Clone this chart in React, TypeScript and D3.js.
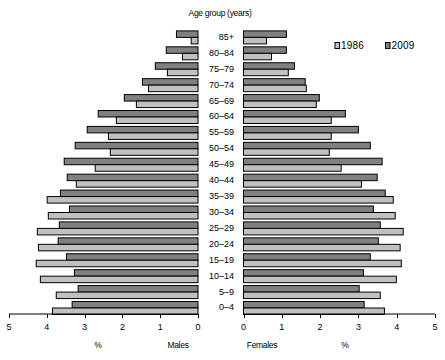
import React from "react";
import * as d3 from "d3";

const ageGroups = ["0–4","5–9","10–14","15–19","20–24","25–29","30–34","35–39","40–44","45–49","50–54","55–59","60–64","65–69","70–74","75–79","80–84","85+"];
const males1986 = [3.85,3.75,4.17,4.28,4.22,4.25,3.96,3.99,3.22,2.72,2.32,2.37,2.16,1.63,1.31,0.81,0.41,0.18];
const males2009 = [3.33,3.17,3.27,3.48,3.70,3.67,3.40,3.64,3.46,3.54,3.25,2.93,2.64,1.95,1.47,1.13,0.84,0.57];
const females1986 = [3.68,3.57,3.99,4.12,4.09,4.17,3.96,3.91,3.08,2.55,2.24,2.29,2.29,1.90,1.64,1.17,0.73,0.60];
const females2009 = [3.15,3.02,3.13,3.31,3.52,3.57,3.39,3.70,3.49,3.62,3.31,3.00,2.66,1.98,1.61,1.33,1.12,1.12];
const ticks = [0,1,2,3,4,5];
const years = ["1986","2009"];

const W = 445, H = 360;
const LIGHT = "#c0c0c0", DARK = "#808080";
const FONT = "Liberation Sans, Arial, sans-serif";

export default function App() {
  const xL = d3.scaleLinear().domain([0,5]).range([198,9]);
  const xR = d3.scaleLinear().domain([0,5]).range([243.5,435]);
  const y = d3.scaleBand<string>().domain(ageGroups).range([314,30.4]).paddingInner(0.183).paddingOuter(0);
  const bw = y.bandwidth();
  const hb = bw/2;
  const axisY = 314;
  return (
    <svg width={W} height={H} style={{position:"absolute",left:0,top:0,background:"#fff"}} fontFamily={FONT}>
      <rect width={W} height={H} fill="#fff"/>
      <text x={220} y={16} fontSize={8.5} textAnchor="middle" letterSpacing={-0.3}>Age group (years)</text>
      {ageGroups.map((g,i)=>{
        const y0 = y(g)!;
        return (
          <g key={g}>
            <rect x={xL(males2009[i])} y={y0+0.5} width={xL(0)-xL(males2009[i])} height={hb} fill={DARK} stroke="#000" strokeWidth={1}/>
            <rect x={xL(males1986[i])} y={y0+0.5+hb} width={xL(0)-xL(males1986[i])} height={hb} fill={LIGHT} stroke="#000" strokeWidth={1}/>
            <rect x={xR(0)} y={y0+0.5} width={xR(females2009[i])-xR(0)} height={hb} fill={DARK} stroke="#000" strokeWidth={1}/>
            <rect x={xR(0)} y={y0+0.5+hb} width={xR(females1986[i])-xR(0)} height={hb} fill={LIGHT} stroke="#000" strokeWidth={1}/>
            <text x={234} y={y0+bw/2+3} fontSize={9} textAnchor="end">{g}</text>
          </g>
        );
      })}
      <line x1={xL(5)} x2={xL(0)} y1={axisY} y2={axisY} stroke="#000"/>
      <line x1={xR(0)} x2={xR(5)} y1={axisY} y2={axisY} stroke="#000"/>
      {ticks.map(t=>(
        <g key={"t"+t}>
          <line x1={Math.round(xL(t))+0.5} x2={Math.round(xL(t))+0.5} y1={axisY} y2={axisY+4} stroke="#000"/>
          <text x={xL(t)} y={330} fontSize={9} textAnchor="middle">{t}</text>
          <line x1={Math.round(xR(t))+0.5} x2={Math.round(xR(t))+0.5} y1={axisY} y2={axisY+4} stroke="#000"/>
          <text x={xR(t)} y={330} fontSize={9} textAnchor="middle">{t}</text>
        </g>
      ))}
      <text x={98} y={348} fontSize={8.5} textAnchor="middle">%</text>
      <text x={178} y={348} fontSize={8.5} textAnchor="middle" letterSpacing={-0.3}>Males</text>
      <text x={262} y={348} fontSize={8.5} textAnchor="middle" letterSpacing={-0.3}>Females</text>
      <text x={345} y={348} fontSize={8.5} textAnchor="middle">%</text>
      {years.map((yr,i)=>(
        <g key={yr} transform={`translate(${334.5+i*50.5},42)`}>
          <rect x={0.5} y={0.5} width={4.5} height={6} fill={i===0?LIGHT:DARK} stroke="#000"/>
          <text x={6.5} y={7.2} fontSize={10} letterSpacing={0.2}>{yr}</text>
        </g>
      ))}
    </svg>
  );
}
